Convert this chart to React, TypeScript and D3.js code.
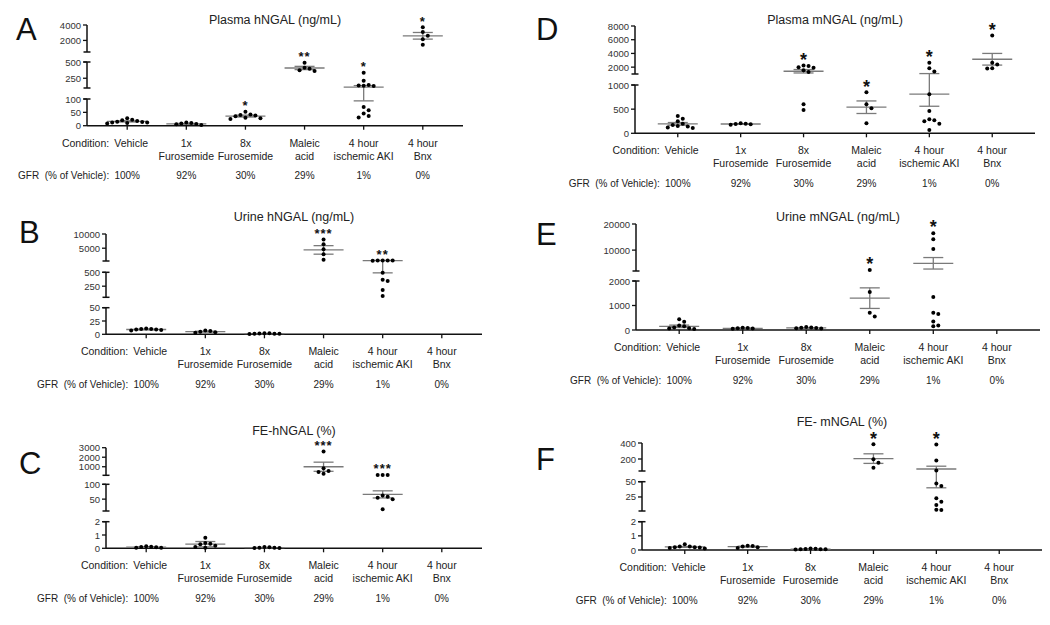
import React from 'react';
import * as d3 from 'd3';

// ---------- shared categories ----------
const categories = ["Vehicle", "1x Furosemide", "8x Furosemide", "Maleic acid", "4 hour ischemic AKI", "4 hour Bnx"];
const categoryLines = [["Vehicle"], ["1x", "Furosemide"], ["8x", "Furosemide"], ["Maleic", "acid"], ["4 hour", "ischemic AKI"], ["4 hour", "Bnx"]];
const gfrLabels = ["100%", "92%", "30%", "29%", "1%", "0%"];

// ---------- A: Plasma hNGAL ----------
const plasmaHPoints = [
  [28, 22, 18, 15, 12, 20, 10, 14, 8, 12],
  [12, 8, 5, 10, 3, 6],
  [52, 40, 35, 30, 25, 38, 28, 42],
  [490, 410, 375, 360, 395],
  [335, 210, 145, 140, 135, 130, 70, 58, 46, 36, 31],
  [3700, 3100, 2600, 2150, 1450],
];
const plasmaHMeans = [16, 7, 36, 408, 115, 2600];
const plasmaHSems = [2, 1.5, 3.5, 25, 22, 430];
const plasmaHSig = ["", "", "*", "**", "*", "*"];
const plasmaHSegments = [[0, 100], [100, 500], [500, 4000]];
const plasmaHTicks = [[0, 50, 100], [250, 500], [2000, 4000]];

// ---------- B: Urine hNGAL ----------
const urineHPoints = [
  [11, 10, 9, 8, 10, 7, 9],
  [7, 5, 4, 6, 3],
  [1.5, 2, 1, 1, 0.5, 1, 2],
  [8100, 6400, 4600, 2900, 900],
  [700, 680, 660, 640, 620, 490, 365, 345, 180, 75],
  [],
];
const urineHMeans = [9, 5, 1.3, 4400, 600, null];
const urineHSems = [0.6, 0.7, 0.2, 1500, 110, null];
const urineHSig = ["", "", "", "***", "**", ""];
const urineHSegments = [[0, 50], [50, 500], [500, 10000]];
const urineHTicks = [[0, 25, 50], [250, 500], [5000, 10000]];

// ---------- C: FE-hNGAL ----------
const feHPoints = [
  [0.1, 0.05, 0.12, 0.15, 0.05, 0.08],
  [0.8, 0.35, 0.4, 0.2, 0.1, 0.05, 0.3],
  [0.05, 0.1, 0.05, 0.02, 0.08, 0.03],
  [2600, 850, 550, 450, 250],
  [140, 135, 130, 62, 58, 55, 50, 16],
  [],
];
const feHMeans = [0.09, 0.31, 0.055, 1000, 66, null];
const feHSems = [0.02, 0.2, 0.012, 480, 12, null];
const feHSig = ["", "", "", "***", "***", ""];
const feHSegments = [[0, 2], [10, 100], [100, 3000]];
const feHTicks = [[0, 1, 2], [50, 100], [1000, 2000, 3000]];

// ---------- D: Plasma mNGAL ----------
const plasmaMPoints = [
  [360, 300, 250, 200, 170, 140, 110, 120, 150],
  [210, 200, 190, 185, 175],
  [2250, 2150, 2000, 1900, 1550, 1300, 600, 480],
  [850, 600, 520, 210],
  [2650, 1850, 1350, 810, 460, 290, 270, 250, 200, 70],
  [6600, 2650, 2400, 1850, 1800],
];
const plasmaMMeans = [195, 193, 1400, 540, 810, 3150];
const plasmaMSems = [28, 6, 250, 130, 250, 850];
const plasmaMSig = ["", "", "*", "*", "*", "*"];
const plasmaMSegments = [[0, 1000], [1000, 8000]];
const plasmaMTicks = [[0, 500, 1000], [2000, 4000, 6000, 8000]];

// ---------- E: Urine mNGAL ----------
const urineMPoints = [
  [440, 340, 180, 150, 100, 60, 40, 70],
  [80, 60, 90, 50, 70],
  [120, 80, 100, 60, 90, 70],
  [2400, 1550, 700, 550],
  [16500, 14200, 10400, 1350, 700, 650, 350, 180, 150],
  [],
];
const urineMMeans = [150, 70, 85, 1300, 4950, null];
const urineMSems = [50, 8, 9, 420, 2200, null];
const urineMSig = ["", "", "", "*", "*", ""];
const urineMSegments = [[0, 2000], [2000, 20000]];
const urineMTicks = [[0, 1000, 2000], [10000, 20000]];

// ---------- F: FE-mNGAL ----------
const feMPoints = [
  [0.4, 0.25, 0.2, 0.15, 0.2, 0.1, 0.25, 0.18],
  [0.3, 0.25, 0.2, 0.28, 0.15],
  [0.05, 0.08, 0.04, 0.06, 0.1, 0.05, 0.07],
  [384, 196, 154, 91],
  [380, 180, 55, 47, 43, 23, 17, 12, 4, 3.5],
  [],
];
const feMMeans = [0.22, 0.24, 0.06, 205, 75, null];
const feMSems = [0.03, 0.03, 0.01, 60, 35, null];
const feMSig = ["", "", "", "*", "*", ""];
const feMSegments = [[0, 2], [2, 50], [50, 400]];
const feMTicks = [[0, 1, 2], [25, 50], [200, 400]];

// ---------- layout ----------
const FONT = "'Liberation Sans', Arial, Helvetica, sans-serif";

const panels = [
  { letter: "A", lx: 16, ly: 40, title: "Plasma hNGAL (ng/mL)", ty: 20, x0: 87, x1: 463, axisY: 125.7,
    pix: [[125.7, 99], [88, 62], [52, 25]], segs: plasmaHSegments, ticks: plasmaHTicks,
    points: plasmaHPoints, means: plasmaHMeans, sems: plasmaHSems, sig: plasmaHSig, big: false },
  { letter: "B", lx: 19, ly: 243, title: "Urine hNGAL (ng/mL)", ty: 217, x0: 106, x1: 482, axisY: 334.3,
    pix: [[334.3, 307.7], [297.3, 272.3], [261, 234]], segs: urineHSegments, ticks: urineHTicks,
    points: urineHPoints, means: urineHMeans, sems: urineHSems, sig: urineHSig, big: false },
  { letter: "C", lx: 19, ly: 474, title: "FE-hNGAL (%)", ty: 431, x0: 106, x1: 482, axisY: 548.3,
    pix: [[548.3, 521.7], [511, 484.3], [475.3, 447.7]], segs: feHSegments, ticks: feHTicks,
    points: feHPoints, means: feHMeans, sems: feHSems, sig: feHSig, big: false },
  { letter: "D", lx: 536, ly: 40, title: "Plasma mNGAL (ng/mL)", ty: 20, x0: 635, x1: 1035, axisY: 133.3,
    pix: [[133.3, 85], [74, 26]], segs: plasmaMSegments, ticks: plasmaMTicks,
    points: plasmaMPoints, means: plasmaMMeans, sems: plasmaMSems, sig: plasmaMSig, big: true },
  { letter: "E", lx: 536, ly: 245, title: "Urine mNGAL (ng/mL)", ty: 217, x0: 636, x1: 1040, axisY: 330,
    pix: [[330, 281], [271, 224]], segs: urineMSegments, ticks: urineMTicks,
    points: urineMPoints, means: urineMMeans, sems: urineMSems, sig: urineMSig, big: true },
  { letter: "F", lx: 536, ly: 470, title: "FE- mNGAL (%)", ty: 422, x0: 642, x1: 1042, axisY: 550,
    pix: [[550, 521.7], [511, 481.7], [471, 443]], segs: feMSegments, ticks: feMTicks,
    points: feMPoints, means: feMMeans, sems: feMSems, sig: feMSig, big: true },
];

function makeY(segs: number[][], pix: number[][]) {
  const scales = segs.map((d, i) => d3.scaleLinear().domain(d).range(pix[i]));
  return (v: number) => {
    for (let i = 0; i < segs.length; i++) {
      if (v >= segs[i][0] && v <= segs[i][1]) return scales[i](v);
      if (i < segs.length - 1 && v > segs[i][1] && v < segs[i + 1][0]) {
        const t = (v - segs[i][1]) / (segs[i + 1][0] - segs[i][1]);
        return pix[i][1] + t * (pix[i + 1][0] - pix[i][1]);
      }
    }
    if (v < segs[0][0]) return scales[0](v);
    return scales[segs.length - 1](v);
  };
}

function swarm(values: number[], y: (v: number) => number, cx: number) {
  const order = values.map((_, i) => i).sort((a, b) => values[b] - values[a]);
  const placed: { x: number; y: number }[] = [];
  const out: { x: number; y: number }[] = new Array(values.length);
  const D = 5;
  for (const i of order) {
    const py = y(values[i]);
    let k = 0;
    while (k < 60) {
      const off = k === 0 ? 0 : (k % 2 === 1 ? Math.ceil(k / 2) * D : -Math.ceil(k / 2) * D);
      const px = cx + off;
      if (placed.every(p => (p.x - px) ** 2 + (p.y - py) ** 2 >= D * D * 0.85)) {
        placed.push({ x: px, y: py });
        out[i] = { x: px, y: py };
        break;
      }
      k++;
    }
  }
  return out;
}

function Panel({ p }: { p: any }) {
  const x = d3.scalePoint<string>().domain(categories).range([p.x0, p.x1]).padding(0.68);
  const y = makeY(p.segs, p.pix);
  const ax = p.x0;
  const nSeg = p.segs.length;
  const lineCol = "#7a7a7a";
  const vehX = x(categories[0]) as number;
  return (
    <g fontFamily={FONT}>
      <text x={p.lx} y={p.ly} fontSize={31} fill="#111">{p.letter}</text>
      <text x={(p.x0 + p.x1) / 2} y={p.ty} fontSize={12.5} textAnchor="middle" dominantBaseline="central" fill="#222">{p.title}</text>
      {/* y axis segments */}
      {p.segs.map((seg: number[], i: number) => {
        const yb = p.pix[i][0], yt = p.pix[i][1];
        return (
          <g key={"s" + i}>
            <line x1={ax} x2={ax} y1={yb} y2={yt} stroke="#111" strokeWidth={1.5} />
            {i > 0 && <line x1={ax - 3.5} x2={ax + 3.5} y1={yb} y2={yb} stroke="#111" strokeWidth={1.5} />}
            {i < nSeg - 1 && <line x1={ax - 3.5} x2={ax + 3.5} y1={yt} y2={yt} stroke="#111" strokeWidth={1.5} />}
            {p.ticks[i].map((t: number) => (
              <g key={t}>
                <line x1={ax - 4} x2={ax} y1={y(t)} y2={y(t)} stroke="#111" strokeWidth={1.3} />
                <text x={ax - 6} y={y(t)} fontSize={9.5} textAnchor="end" dominantBaseline="central" fill="#333">{t}</text>
              </g>
            ))}
          </g>
        );
      })}
      {/* x axis */}
      <line x1={ax} x2={p.x1} y1={p.axisY} y2={p.axisY} stroke="#111" strokeWidth={1.6} />
      {categories.map((c, i) => {
        const cx = x(c) as number;
        return <line key={"t" + i} x1={cx} x2={cx} y1={p.axisY} y2={p.axisY + 4} stroke="#111" strokeWidth={1.3} />;
      })}
      {/* labels */}
      <text x={vehX - 18} y={p.axisY + 17} fontSize={10.5} textAnchor="end" dominantBaseline="central" fill="#222">Condition:</text>
      <text x={vehX - 18} y={p.axisY + 50} fontSize={10} textAnchor="end" dominantBaseline="central" fill="#222">{"GFR\u00A0\u00A0(% of Vehicle):"}</text>
      {categories.map((c, i) => {
        const cx = x(c) as number;
        return (
          <g key={"l" + i}>
            {categoryLines[i].map((ln, j) => (
              <text key={j} x={cx + (i === 0 ? 4 : 0)} y={p.axisY + 17 + j * 13} fontSize={10.5} textAnchor="middle" dominantBaseline="central" fill="#222">{ln}</text>
            ))}
            <text x={cx} y={p.axisY + 50} fontSize={10} textAnchor="middle" dominantBaseline="central" fill="#222">{gfrLabels[i]}</text>
          </g>
        );
      })}
      {/* data */}
      {categories.map((c, i) => {
        const cx = x(c) as number;
        const vals: number[] = p.points[i];
        const m = p.means[i], s = p.sems[i];
        const pts = swarm(vals, y, cx);
        let topY = Infinity;
        pts.forEach(q => { if (q.y < topY) topY = q.y; });
        if (m != null) topY = Math.min(topY, y(m + s));
        const sig: string = p.sig[i];
        const fs = p.big ? 18 : 13;
        const gap = p.big ? 10 : 9;
        return (
          <g key={"d" + i}>
            {m != null && (
              <g stroke={lineCol} strokeWidth={1.3}>
                <line x1={cx} x2={cx} y1={y(m + s)} y2={y(m - s)} />
                <line x1={cx - 10} x2={cx + 10} y1={y(m + s)} y2={y(m + s)} />
                <line x1={cx - 10} x2={cx + 10} y1={y(m - s)} y2={y(m - s)} />
                <line x1={cx - 20} x2={cx + 20} y1={y(m)} y2={y(m)} />
              </g>
            )}
            {pts.map((q, j) => <circle key={j} cx={q.x} cy={q.y} r={2} fill="#000" />)}
            {sig && (
              <text x={cx} y={topY - gap + fs * 0.57} fontSize={fs} fontWeight="bold" textAnchor="middle" fill="#111" letterSpacing={p.big ? 0 : 1}>{sig}</text>
            )}
          </g>
        );
      })}
    </g>
  );
}

export default function App() {
  return (
    <svg width={1050} height={625} style={{ position: 'absolute', left: 0, top: 0, background: '#fff' }}>
      <rect width={1050} height={625} fill="#fff" />
      {panels.map(p => <Panel key={p.letter} p={p} />)}
    </svg>
  );
}
